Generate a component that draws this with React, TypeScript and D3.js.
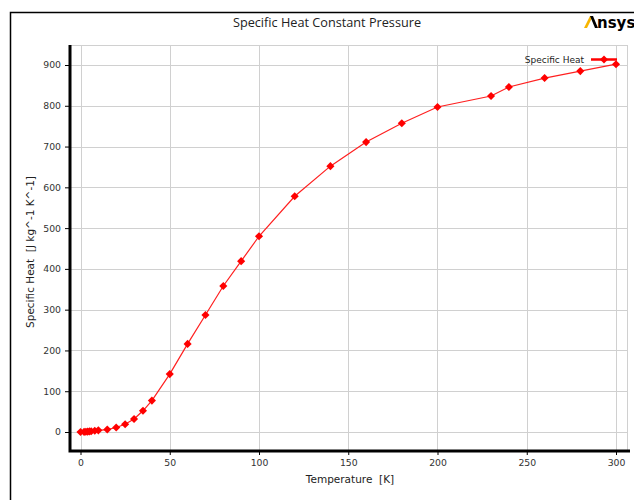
import React, { useRef, useEffect } from 'react';
import * as d3 from 'd3';

// temperature [K]
const temperature = [0, 2, 3, 4, 5, 6, 8, 10, 15, 20, 25, 30, 35, 40, 50, 60, 70, 80, 90, 100, 120, 140, 160, 180, 200, 230, 240, 260, 280, 300];
// specific heat [J kg^-1 K^-1]
const specificHeat = [0, 0.3, 0.6, 1, 1.5, 2, 3, 4, 6, 11, 19, 32, 52, 77, 142, 216, 287, 358, 419, 480, 578, 652, 711, 757, 797, 824, 846, 868, 885, 902];
const xTicks = [0, 50, 100, 150, 200, 250, 300];
const yTicks = [0, 100, 200, 300, 400, 500, 600, 700, 800, 900];

const App = () => {
  const svgRef = useRef<SVGSVGElement>(null);

  useEffect(() => {
    const svg = d3.select(svgRef.current);
    svg.selectAll('*').remove();

    const width = 634;
    const height = 500;
    const font = 'Open Sans, DejaVu Sans, sans-serif';
    const tickFont = 'DejaVu Sans, sans-serif';
    const left = 70, right = 627, top = 45, bottom = 451;

    const x = d3.scaleLinear().domain([0, 300]).range([80.5, 616]);
    const y = d3.scaleLinear().domain([0, 900]).range([432, 65]);

    svg.attr('width', width).attr('height', height);
    svg.append('rect').attr('width', width).attr('height', height).attr('fill', '#fff');

    // outer frame
    svg.append('path')
      .attr('d', `M10.5,${height + 2} V12.5 H${width + 2}`)
      .attr('fill', 'none').attr('stroke', '#000').attr('stroke-width', 1.5);

    // title + logo
    svg.append('text').attr('x', 327).attr('y', 27).attr('text-anchor', 'middle')
      .attr('font-family', font).attr('font-size', 12.7).attr('fill', '#222')
      .text('Specific Heat Constant Pressure');
    svg.append('path').attr('d', 'M584,28 L590,16 L593,16 L587,28 Z').attr('fill', '#f7b500');
    svg.append('path').attr('d', 'M590,16 L593,16 L598,28 L595,28 Z').attr('fill', '#000');
    svg.append('text').attr('x', 597).attr('y', 28)
      .attr('font-family', 'DejaVu Sans, sans-serif').attr('font-weight', 'bold')
      .attr('font-size', 15).attr('fill', '#000').text('nsys');

    // grid
    const grid = svg.append('g').attr('stroke', '#d0d0d0').attr('stroke-width', 1);
    grid.selectAll('line.v').data(xTicks).join('line')
      .attr('x1', d => Math.round(x(d)) + 0.5).attr('x2', d => Math.round(x(d)) + 0.5)
      .attr('y1', top).attr('y2', bottom);
    grid.selectAll('line.h').data(yTicks).join('line')
      .attr('y1', d => Math.round(y(d)) + 0.5).attr('y2', d => Math.round(y(d)) + 0.5)
      .attr('x1', left).attr('x2', right);
    grid.append('line').attr('x1', left).attr('x2', right).attr('y1', top + 0.5).attr('y2', top + 0.5);
    grid.append('line').attr('x1', right + 0.5).attr('x2', right + 0.5).attr('y1', top).attr('y2', bottom);

    // axes
    const yAxis = svg.append('g').attr('transform', `translate(${left},0)`)
      .call(d3.axisLeft(y).tickValues(yTicks).tickSize(5).tickSizeOuter(0).tickPadding(4));
    yAxis.select('.domain').remove();
    yAxis.selectAll('text').attr('font-family', tickFont).attr('font-size', 9.3).attr('fill', '#333');

    const xAxis = svg.append('g').attr('transform', `translate(0,${bottom})`)
      .call(d3.axisBottom(x).tickValues(xTicks).tickSize(4).tickSizeOuter(0).tickPadding(4));
    xAxis.select('.domain').remove();
    xAxis.selectAll('text').attr('font-family', tickFont).attr('font-size', 9.3).attr('fill', '#333');

    svg.append('path')
      .attr('d', `M${left},${top} V${bottom} H${right + 3}`)
      .attr('fill', 'none').attr('stroke', '#000').attr('stroke-width', 3);

    // axis labels
    svg.append('text').attr('x', 350).attr('y', 483).attr('text-anchor', 'middle')
      .attr('font-family', tickFont).attr('font-size', 10.5).attr('fill', '#222')
      .attr('xml:space', 'preserve').text('Temperature  [K]');
    svg.append('text').attr('transform', 'translate(34,252) rotate(-90)').attr('text-anchor', 'middle')
      .attr('font-family', tickFont).attr('font-size', 10.5).attr('fill', '#222')
      .attr('xml:space', 'preserve').text('Specific Heat  [J kg^-1 K^-1]');

    // series
    const data = temperature.map((t, i) => [t, specificHeat[i]] as [number, number]);
    const line = d3.line<[number, number]>()
      .x(d => x(d[0])).y(d => y(d[1]));
    svg.append('path').datum(data).attr('d', line)
      .attr('fill', 'none').attr('stroke', '#ff2020').attr('stroke-width', 1.2);

    const sym = d3.symbol().type(d3.symbolDiamond2).size(42);
    svg.append('g').selectAll('path').data(data).join('path')
      .attr('transform', d => `translate(${x(d[0])},${y(d[1])})`)
      .attr('d', sym).attr('fill', '#ff0000');

    // legend
    svg.append('text').attr('x', 584).attr('y', 63).attr('text-anchor', 'end')
      .attr('font-family', tickFont).attr('font-size', 9).attr('fill', '#222').text('Specific Heat');
    svg.append('line').attr('x1', 591).attr('x2', 617).attr('y1', 59.5).attr('y2', 59.5)
      .attr('stroke', '#ff0000').attr('stroke-width', 2.5);
    svg.append('path').attr('transform', 'translate(604,59.5)').attr('d', sym).attr('fill', '#ff0000');
  }, []);

  return <svg ref={svgRef} style={{ position: 'absolute', left: 0, top: 0 }}></svg>;
};

export default App;
